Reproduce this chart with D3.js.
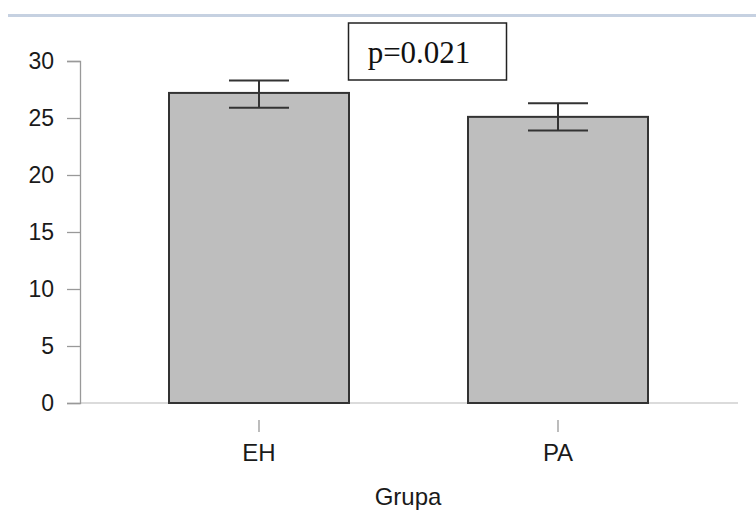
<!DOCTYPE html>
<html>
<head>
<meta charset="UTF-8">
<style>
  body { margin: 0; background: #fff; }
  svg { display: block; }
</style>
</head>
<body>
<svg id="chart" width="756" height="531"></svg>
<script src="https://cdnjs.cloudflare.com/ajax/libs/d3/7.8.5/d3.min.js"></script>
<script>
const groups = ["EH", "PA"];
const means = [27.2, 25.1];
const errLow = [25.9, 23.9];
const errHigh = [28.3, 26.3];
const yTicks = [0, 5, 10, 15, 20, 25, 30];
const pLabel = "p=0.021";
const xTitle = "Grupa";

const svg = d3.select("#chart");

// thin banner line at top
svg.append("line")
  .attr("x1", 8).attr("x2", 756).attr("y1", 15.5).attr("y2", 15.5)
  .attr("stroke", "#c6d1e1").attr("stroke-width", 3);

const y = d3.scaleLinear().domain([0, 30]).range([403, 61]);
const x = d3.scaleBand().domain(groups).range([79.3, 737.7]).paddingInner(0.398).paddingOuter(0.3);

// baseline
svg.append("line")
  .attr("x1", 80).attr("x2", 738).attr("y1", y(0)).attr("y2", y(0))
  .attr("stroke", "#cfcfcf").attr("stroke-width", 1.5);

// y axis
const yAxis = svg.append("g").attr("transform", "translate(80,0)")
  .call(d3.axisLeft(y).tickValues(yTicks).tickSize(13).tickPadding(13));
yAxis.select(".domain").attr("stroke", "#999").attr("stroke-width", 1.3);
yAxis.selectAll(".tick line").attr("stroke", "#999").attr("stroke-width", 1.3);
yAxis.selectAll(".tick text")
  .attr("font-family", "Liberation Sans, Arial, sans-serif")
  .attr("font-size", 23).attr("fill", "#1a1a1a");

// bars
const bw = x.bandwidth();
svg.selectAll("rect.bar").data(groups).join("rect")
  .attr("class", "bar")
  .attr("x", d => x(d))
  .attr("y", (d, i) => y(means[i]))
  .attr("width", bw)
  .attr("height", (d, i) => y(0) - y(means[i]))
  .attr("fill", "#bebebe").attr("stroke", "#333").attr("stroke-width", 2);

// error bars
const cap = 30;
const eb = svg.selectAll("g.err").data(groups).join("g").attr("class", "err")
  .attr("stroke", "#333").attr("stroke-width", 2);
eb.append("line")
  .attr("x1", d => x(d) + bw / 2).attr("x2", d => x(d) + bw / 2)
  .attr("y1", (d, i) => y(errLow[i])).attr("y2", (d, i) => y(errHigh[i]));
eb.append("line")
  .attr("x1", d => x(d) + bw / 2 - cap).attr("x2", d => x(d) + bw / 2 + cap)
  .attr("y1", (d, i) => y(errHigh[i])).attr("y2", (d, i) => y(errHigh[i]));
eb.append("line")
  .attr("x1", d => x(d) + bw / 2 - cap).attr("x2", d => x(d) + bw / 2 + cap)
  .attr("y1", (d, i) => y(errLow[i])).attr("y2", (d, i) => y(errLow[i]));

// x ticks and labels
const xg = svg.selectAll("g.xt").data(groups).join("g").attr("class", "xt")
  .attr("transform", d => `translate(${x(d) + bw / 2},0)`);
xg.append("line").attr("y1", 420).attr("y2", 432).attr("stroke", "#999").attr("stroke-width", 1.3);
xg.append("text").attr("y", 461).attr("text-anchor", "middle")
  .attr("font-family", "Liberation Sans, Arial, sans-serif")
  .attr("font-size", 24).attr("fill", "#1a1a1a").text(d => d);

svg.append("text").attr("x", 408).attr("y", 505).attr("text-anchor", "middle")
  .attr("font-family", "Liberation Sans, Arial, sans-serif")
  .attr("font-size", 24).attr("fill", "#1a1a1a").text(xTitle);

// p-value box
svg.append("rect").attr("x", 348.5).attr("y", 23).attr("width", 158).attr("height", 57)
  .attr("fill", "#fff").attr("stroke", "#222").attr("stroke-width", 1.5);
svg.append("text").attr("x", 419).attr("y", 63).attr("text-anchor", "middle")
  .attr("font-family", "Liberation Serif, Times New Roman, serif")
  .attr("font-size", 31).attr("fill", "#111").text(pLabel);
</script>
</body>
</html>
